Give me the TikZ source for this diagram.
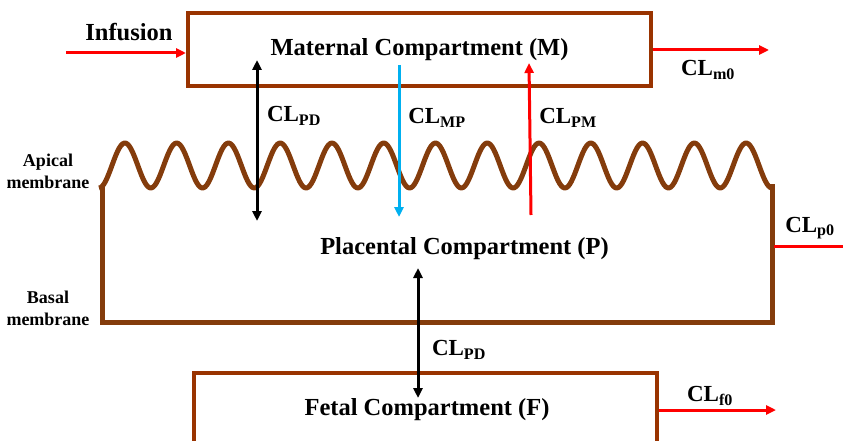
\documentclass[tikz,border=0pt]{standalone}
\usepackage{fontspec}
\setmainfont{Liberation Serif}
\usetikzlibrary{arrows.meta, positioning}
\definecolor{boxbrown}{HTML}{993300}
\definecolor{membrown}{HTML}{843C0C}
\definecolor{mpblue}{HTML}{00B0F0}

\begin{document}
\begin{tikzpicture}[
    x=1pt, y=-1pt,
    compartment/.style={rectangle, draw=boxbrown, line width=4pt, minimum width=463pt, minimum height=73pt, inner sep=0pt, font=\bfseries\fontsize{24.5}{29}\selectfont},
    title/.style={font=\bfseries\fontsize{24.5}{29}\selectfont},
    side/.style={align=center, font=\bfseries\fontsize{18}{22}\selectfont},
    cltext/.style={font=\bfseries\fontsize{23}{27}\selectfont},
    membrane/.style={draw=membrown, line width=5pt},
    redarrow/.style={red, line width=3pt, -{Triangle[length=10pt,width=9pt]}},
    bluearrow/.style={mpblue, line width=3pt, -{Triangle[length=10pt,width=9pt]}},
    twoway/.style={black, line width=3pt, {Triangle[length=10pt,width=9pt]}-{Triangle[length=10pt,width=9pt]}},
]
    \useasboundingbox (0,0) rectangle (843,441);

    % Maternal compartment
    \node (maternal) [compartment] at (419.5,49.5) {Maternal Compartment (M)};
    \node (infusion) [title] at (129,32) {Infusion};
    \coordinate (inf_start) at (66,53);
    \coordinate (m0_end) at (769,50);
    \node (cl_m0) [cltext] at (708,70) {CL\textsubscript{m0}};

    % Placental compartment with apical (wavy) and basal membranes
    \draw [membrane, line join=round] plot[domain=99:772, samples=400] (\x, {165.5+22.5*cos((\x-99)*6.954)});
    \draw [membrane] (102,186) |- (772,322) -- (772,184);
    \node (placental) [title] at (464.5,249) {Placental Compartment (P)};
    \node (apical) [side] at (48,171) {Apical\\membrane};
    \node (basal) [side] at (48,308) {Basal\\membrane};
    \coordinate (p0_start) at (774,246);
    \coordinate (p0_end) at (853,246);
    \node (cl_p0) [cltext] at (810,228) {CL\textsubscript{p0}};

    % Fetal compartment
    \draw [draw=boxbrown, line width=4pt] (194,450) |- (657,373) -- (657,450);
    \node (fetal) [title] at (427,410) {Fetal Compartment (F)};
    \coordinate (fetal_right) at (659,410);
    \coordinate (f0_end) at (776,410);
    \node (cl_f0) [cltext] at (710,396) {CL\textsubscript{f0}};

    % Exchange between compartments
    \coordinate (pd_top) at (257,60);
    \coordinate (pd_bot) at (257,221);
    \coordinate (mp_top) at (399,65);
    \coordinate (mp_bot) at (399,217);
    \coordinate (pm_bot) at (531,215);
    \coordinate (pm_top) at (529,63);
    \coordinate (pd2_top) at (418,268);
    \coordinate (pd2_bot) at (418,398);
    \node (cl_pd) [cltext] at (294,116) {CL\textsubscript{PD}};
    \node (cl_mp) [cltext] at (437,118) {CL\textsubscript{MP}};
    \node (cl_pm) [cltext] at (568,118) {CL\textsubscript{PM}};
    \node (cl_pd2) [cltext] at (459,350) {CL\textsubscript{PD}};

    \draw [redarrow] (inf_start) -- (inf_start -| maternal.west);
    \draw [redarrow] (maternal.east |- m0_end) -- (m0_end);
    \draw [redarrow] (p0_start) -- (p0_end);
    \draw [redarrow] (fetal_right) -- (f0_end);
    \draw [twoway] (pd_top) -- (pd_bot);
    \draw [bluearrow] (mp_top) -- (mp_bot);
    \draw [redarrow] (pm_bot) -- (pm_top);
    \draw [twoway] (pd2_top) -- (pd2_bot);

\end{tikzpicture}
\end{document}
